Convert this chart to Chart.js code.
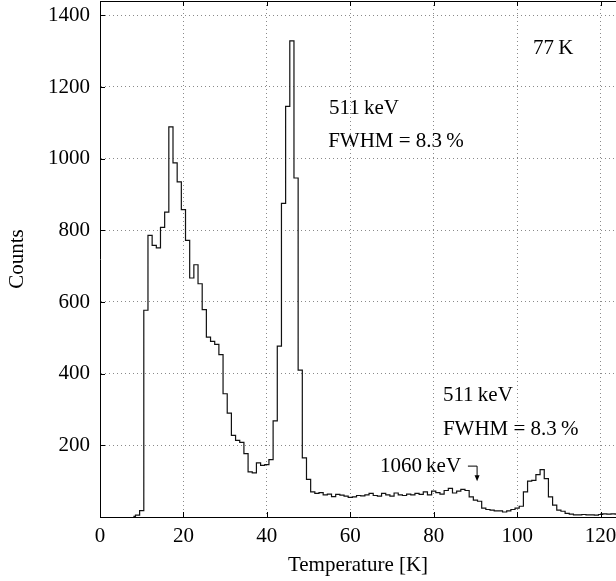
<!DOCTYPE html>
<html>
<head>
<meta charset="utf-8">
<script src="https://cdn.jsdelivr.net/npm/chart.js@4"></script>
<style>
  html, body { margin: 0; padding: 0; background: #fff; }
  #wrap { width: 616px; height: 581px; }
</style>
</head>
<body>
<div id="wrap"><canvas id="c" width="616" height="581"></canvas></div>
<script>
// ---- data (bin centers are integers, bin width 1) ----
const firstBin = 8;
const counts = [
  2, 5,                                              // 8-9
  18, 577, 786, 758, 751, 808, 851, 1089, 988, 935,   // 10-19
  858, 772, 667, 704, 651, 579, 502, 490, 482, 453,   // 20-29
  344, 290, 228, 214, 208, 177, 126, 123, 151, 144,   // 30-39
  146, 160, 268, 477, 875, 1146, 1329, 946, 410, 165, // 40-49
  105, 70, 66, 68, 62, 64, 57, 63, 61, 58,            // 50-59
  55, 56, 60, 59, 62, 66, 60, 58, 66, 62,             // 60-69
  58, 67, 62, 60, 64, 62, 66, 63, 70, 62,             // 70-79
  72, 68, 64, 74, 80, 67, 72, 77, 74, 56,             // 80-89
  47, 44, 25, 21, 19, 17, 17, 14, 17, 21,             // 90-99
  25, 30, 70, 100, 102, 118, 132, 107, 56, 33,        // 100-109
  19, 16, 10, 8, 6, 6, 7, 6, 6, 5,                    // 110-119
  7, 9, 8, 9, 8, 8                                    // 120-125
];
const xTicks = [0, 20, 40, 60, 80, 100, 120];
const yTicks = [200, 400, 600, 800, 1000, 1200, 1400];
const xTitle = 'Temperature [K]';
const yTitle = 'Counts';
// annotations: [text, x value, y value (baseline)]
const labels = [
  ['77\u2009K', 103.8, 1292],
  ['511\u2009keV', 54.9, 1125],
  ['FWHM = 8.3\u2009%', 54.7, 1033],
  ['511\u2009keV', 82.2, 324],
  ['FWHM = 8.3\u2009%', 82.2, 229],
  ['1060\u2009keV', 67.1, 126]
];
// arrow: from (x0,y0) right to x1, then down to y1
const arrowPts = { x0: 88.2, y0: 142, x1: 90.4, y1: 100 };

const points = counts.map((v, i) => ({ x: firstBin + i, y: v }));

const FONT = '"Liberation Serif", "Times New Roman", serif';
const FS = 21;

const framePlugin = {
  id: 'frame',
  afterDraw(chart) {
    const { ctx, chartArea: a, scales: { x, y } } = chart;
    ctx.save();
    ctx.strokeStyle = '#000';
    ctx.lineWidth = 1;
    // top border
    ctx.beginPath();
    ctx.moveTo(a.left, a.top + 0.5);
    ctx.lineTo(a.right, a.top + 0.5);
    ctx.stroke();
    // inward tick marks
    ctx.beginPath();
    xTicks.forEach(t => {
      const px = Math.round(x.getPixelForValue(t)) + 0.5;
      ctx.moveTo(px, a.bottom); ctx.lineTo(px, a.bottom - 5);
      ctx.moveTo(px, a.top); ctx.lineTo(px, a.top + 5);
    });
    yTicks.forEach(t => {
      const py = Math.round(y.getPixelForValue(t)) + 0.5;
      ctx.moveTo(a.left, py); ctx.lineTo(a.left + 5, py);
    });
    ctx.stroke();
    // annotations
    ctx.fillStyle = '#000';
    ctx.font = FS + 'px ' + FONT;
    ctx.textBaseline = 'alphabetic';
    ctx.textAlign = 'left';
    labels.forEach(([t, vx, vy]) => {
      ctx.fillText(t, x.getPixelForValue(vx), y.getPixelForValue(vy));
    });
    // arrow
    const ax0 = x.getPixelForValue(arrowPts.x0);
    const ax1 = x.getPixelForValue(arrowPts.x1);
    const ay0 = y.getPixelForValue(arrowPts.y0);
    const ay1 = y.getPixelForValue(arrowPts.y1);
    ctx.beginPath();
    ctx.moveTo(ax0, ay0); ctx.lineTo(ax1, ay0); ctx.lineTo(ax1, ay1 - 5);
    ctx.stroke();
    ctx.beginPath();
    ctx.moveTo(ax1 - 2.5, ay1 - 6);
    ctx.lineTo(ax1 + 2.5, ay1 - 6);
    ctx.lineTo(ax1, ay1);
    ctx.closePath();
    ctx.fill();
    ctx.restore();
  }
};

new Chart(document.getElementById('c'), {
  type: 'line',
  data: {
    datasets: [{
      data: points,
      stepped: 'middle',
      borderColor: '#111',
      borderWidth: 1.2,
      pointRadius: 0,
      fill: false
    }]
  },
  options: {
    responsive: false,
    animation: false,
    layout: { padding: { top: 1, right: 0, bottom: 0, left: 0 } },
    plugins: { legend: { display: false }, tooltip: { enabled: false } },
    scales: {
      x: {
        type: 'linear',
        min: 0,
        max: 123.7,
        afterFit(s) { s.height = 64; s.paddingLeft = 0; s.paddingRight = 0; },
        afterBuildTicks(s) { s.ticks = xTicks.map(v => ({ value: v })); },
        ticks: {
          autoSkip: false, maxRotation: 0, padding: 7, color: '#000',
          font: { family: FONT, size: FS },
          callback: v => String(v)
        },
        grid: { color: '#8a8a8a', lineWidth: 1, drawTicks: false },
        border: { display: true, color: '#000', width: 1, dash: [1, 3] },
        title: {
          display: true, text: xTitle, color: '#000',
          font: { family: FONT, size: FS }, padding: { top: 0, bottom: 3 }
        }
      },
      y: {
        type: 'linear',
        min: 0,
        max: 1440,
        afterFit(s) { s.width = 100; s.paddingTop = 0; s.paddingBottom = 0; },
        afterBuildTicks(s) { s.ticks = yTicks.map(v => ({ value: v })); },
        ticks: {
          padding: 10, color: '#000',
          font: { family: FONT, size: FS },
          callback: v => String(v)
        },
        grid: { color: '#8a8a8a', lineWidth: 1, drawTicks: false },
        border: { display: true, color: '#000', width: 1, dash: [1, 3] },
        title: {
          display: true, text: yTitle, color: '#000',
          font: { family: FONT, size: FS }, padding: { top: 5, bottom: 0 }
        }
      }
    }
  },
  plugins: [framePlugin]
});
</script>
</body>
</html>
